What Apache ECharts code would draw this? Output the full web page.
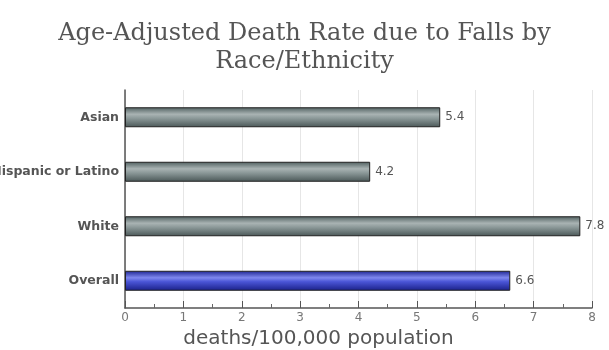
<!doctype html>
<html lang="en">
<head>
<meta charset="UTF-8">
<title>Falls death rate</title>
<script src="https://cdn.jsdelivr.net/npm/echarts@6/dist/echarts.min.js"></script>
<style>
  html, body { margin: 0; padding: 0; background: #fff; }
  #chart { width: 609px; height: 350px; }
</style>
</head>
<body>
<div id="chart"></div>
<script>
// data
const categories = ['Asian', 'Hispanic or Latino', 'White', 'Overall']
const rates = [5.4, 4.2, 7.8, 6.6]
const xTicks = [0, 1, 2, 3, 4, 5, 6, 7, 8]

const grayBar = new echarts.graphic.LinearGradient(0, 0, 0, 1, [
  { offset: 0, color: '#4f5f5f' },
  { offset: 0.35, color: '#a9b3b3' },
  { offset: 0.55, color: '#8c9999' },
  { offset: 1, color: '#4a5757' }
])
const blueBar = new echarts.graphic.LinearGradient(0, 0, 0, 1, [
  { offset: 0, color: '#1c2390' },
  { offset: 0.35, color: '#7f88ee' },
  { offset: 0.55, color: '#4a55d6' },
  { offset: 1, color: '#1a2088' }
])

let chart = echarts.init(document.getElementById('chart'))
chart.setOption({
  animation: false,
  title: {
    text: 'Age-Adjusted Death Rate due to Falls by\nRace/Ethnicity',
    left: 'center',
    top: 15,
    textStyle: {
      fontFamily: 'DejaVu Serif',
      fontWeight: 'normal',
      fontSize: 24,
      lineHeight: 28,
      color: '#555'
    }
  },
  grid: {
    left: 125, right: 17, top: 90, bottom: 42,
    containLabel: false,
    outerBoundsMode: 'none'
  },
  xAxis: {
    type: 'value',
    min: 0,
    max: 8,
    interval: 1,
    name: 'deaths/100,000 population',
    nameLocation: 'middle',
    nameGap: 21,
    nameTextStyle: {
      fontFamily: 'DejaVu Sans',
      fontSize: 20,
      color: '#555',
      padding: [0, 80, 0, 0]
    },
    axisLine: { show: true, lineStyle: { color: '#555', width: 1.5 } },
    axisTick: { show: true, inside: true, length: 7, lineStyle: { color: '#555' } },
    minorTick: { show: true, splitNumber: 2, length: 4, lineStyle: { color: '#666' } },
    axisLabel: {
      fontFamily: 'DejaVu Sans',
      fontSize: 12,
      color: '#777',
      margin: 4,
      formatter: v => xTicks.includes(v) ? String(v) : ''
    },
    splitLine: { show: true, lineStyle: { color: '#e6e6e6' } }
  },
  yAxis: {
    type: 'category',
    inverse: true,
    data: categories,
    axisLine: { show: true, lineStyle: { color: '#555', width: 1.5 } },
    axisTick: { show: false },
    axisLabel: {
      fontFamily: 'DejaVu Sans',
      fontWeight: 'bold',
      fontSize: 12.5,
      color: '#555',
      margin: 6
    }
  },
  series: [{
    type: 'bar',
    data: rates.map((v, i) => ({
      value: v,
      itemStyle: { color: categories[i] === 'Overall' ? blueBar : grayBar }
    })),
    barWidth: 20,
    itemStyle: { borderColor: '#222', borderWidth: 1 },
    label: {
      show: true,
      position: 'right',
      distance: 5,
      fontFamily: 'DejaVu Sans',
      fontSize: 12,
      color: '#555'
    }
  }]
})
</script>
</body>
</html>
